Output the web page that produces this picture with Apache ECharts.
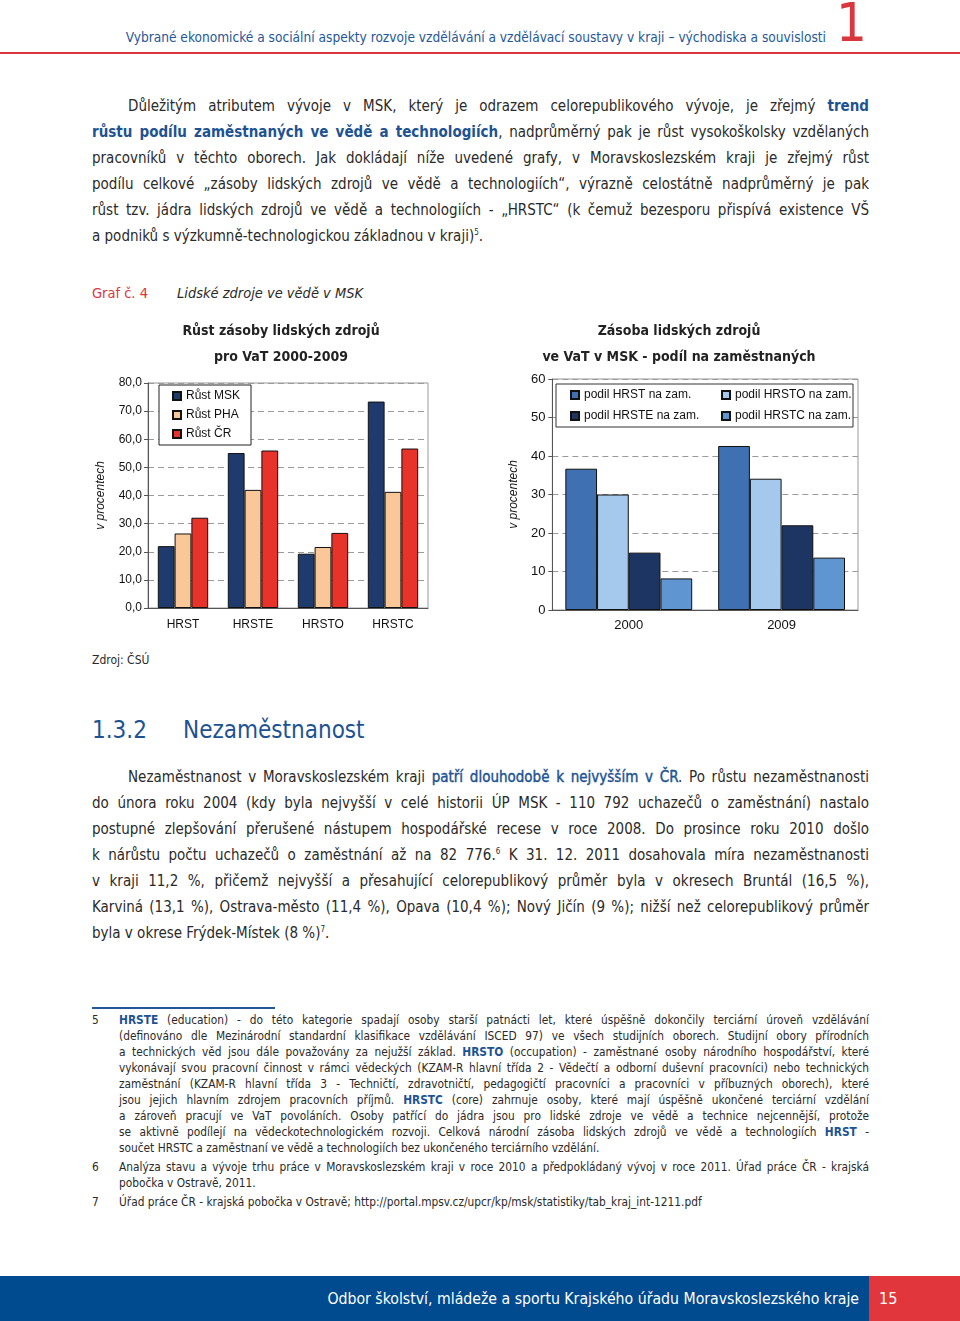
<!DOCTYPE html>
<html lang="cs">
<head>
<meta charset="utf-8">
<title>Lidské zdroje ve vědě v MSK</title>
<script src="https://cdn.jsdelivr.net/npm/echarts@6/dist/echarts.min.js"></script>
<style>
  body { margin: 0; width: 960px; height: 1321px; position: relative; overflow: hidden; background: #fff;
    font-family: "DejaVu Sans Condensed", "DejaVu Sans", sans-serif; color: #2a2a2a; }
  .abs { position: absolute; white-space: nowrap; }
  .para { position: absolute; left: 92px; width: 777px; font-size: 15px; line-height: 26px; }
  .para div, .fn div { text-align: justify; text-align-last: justify; }
  .para div.last, .fn div.last { text-align-last: left; }
  .para div.ind { padding-left: 36px; }
  .hl { color: #1d5393; font-weight: bold; }
  .hl2 { color: #1d5393; -webkit-text-stroke: 0.4px #1d5393; }
  sup { font-size: 8px; line-height: 0; vertical-align: super; }
  .fn { position: absolute; left: 119px; width: 750px; font-size: 11.8px; line-height: 16px; }
  .fnum { position: absolute; left: 92px; font-size: 11.8px; line-height: 16px; }
  .fn b { color: #1d5393; }
  .chart { position: absolute; width: 380px; height: 330px; }
</style>
</head>
<body>
<div class="abs" style="right:134px;top:28px;font-size:13.6px;line-height:18px;color:#24579a;">Vybrané ekonomické a sociální aspekty rozvoje vzdělávání a vzdělávací soustavy v kraji – východiska a souvislosti</div>
<div class="abs" style="left:836px;top:1px;font-size:54px;line-height:44px;color:#d9363e;">1</div>
<div class="abs" style="left:0;top:52px;width:960px;height:2px;background:#d9363e;"></div>

<div class="para" style="top:93px;">
  <div class="ind">Důležitým atributem vývoje v MSK, který je odrazem celorepublikového vývoje, je zřejmý <span class="hl">trend</span></div>
  <div><span class="hl">růstu podílu zaměstnaných ve vědě a technologiích</span>, nadprůměrný pak je růst vysokoškolsky vzdělaných</div>
  <div>pracovníků v těchto oborech. Jak dokládají níže uvedené grafy, v Moravskoslezském kraji je zřejmý růst</div>
  <div>podílu celkové „zásoby lidských zdrojů ve vědě a technologiích“, výrazně celostátně nadprůměrný je pak</div>
  <div>růst tzv. jádra lidských zdrojů ve vědě a technologiích - „HRSTC“ (k čemuž bezesporu přispívá existence VŠ</div>
  <div class="last">a podniků s výzkumně-technologickou základnou v kraji)<sup>5</sup>.</div>
</div>

<div class="abs" style="left:92px;top:283px;font-size:14.5px;line-height:20px;color:#d9363e;">Graf č. 4</div>
<div class="abs" style="left:177px;top:283px;font-size:14.5px;line-height:20px;font-style:italic;">Lidské zdroje ve vědě v MSK</div>

<div id="chart1" class="chart" style="left:80px;top:315px;"></div>
<div id="chart2" class="chart" style="left:500px;top:315px;"></div>

<div class="abs" style="left:92px;top:651px;font-size:12px;line-height:18px;">Zdroj: ČSÚ</div>

<div class="abs" style="left:92px;top:714px;font-size:24px;line-height:32px;color:#1d5393;">1.3.2</div>
<div class="abs" style="left:183px;top:714px;font-size:24px;line-height:32px;color:#1d5393;">Nezaměstnanost</div>

<div class="para" style="top:764px;">
  <div class="ind">Nezaměstnanost v Moravskoslezském kraji <span class="hl2">patří dlouhodobě k nejvyšším v ČR</span>. Po růstu nezaměstnanosti</div>
  <div>do února roku 2004 (kdy byla nejvyšší v celé historii ÚP MSK - 110 792 uchazečů o zaměstnání) nastalo</div>
  <div>postupné zlepšování přerušené nástupem hospodářské recese v roce 2008. Do prosince roku 2010 došlo</div>
  <div>k nárůstu počtu uchazečů o zaměstnání až na 82 776.<sup>6</sup> K 31. 12. 2011 dosahovala míra nezaměstnanosti</div>
  <div>v kraji 11,2 %, přičemž nejvyšší a přesahující celorepublikový průměr byla v okresech Bruntál (16,5 %),</div>
  <div>Karviná (13,1 %), Ostrava-město (11,4 %), Opava (10,4 %); Nový Jičín (9 %); nižší než celorepublikový průměr</div>
  <div class="last">byla v okrese Frýdek-Místek (8 %)<sup>7</sup>.</div>
</div>

<div class="abs" style="left:92px;top:1007px;width:183px;height:2px;background:#24579a;"></div>

<div class="fnum" style="top:1012px;">5</div>
<div class="fn" style="top:1012px;">
  <div><b>HRSTE</b> (education) - do této kategorie spadají osoby starší patnácti let, které úspěšně dokončily terciární úroveň vzdělávání</div>
  <div>(definováno dle Mezinárodní standardní klasifikace vzdělávání ISCED 97) ve všech studijních oborech. Studijní obory přírodních</div>
  <div>a technických věd jsou dále považovány za nejužší základ. <b>HRSTO</b> (occupation) - zaměstnané osoby národního hospodářství, které</div>
  <div>vykonávají svou pracovní činnost v rámci vědeckých (KZAM-R hlavní třída 2 - Vědečtí a odborní duševní pracovníci) nebo technických</div>
  <div>zaměstnání (KZAM-R hlavní třída 3 - Techničtí, zdravotničtí, pedagogičtí pracovníci a pracovníci v příbuzných oborech), které</div>
  <div>jsou jejich hlavním zdrojem pracovních příjmů. <b>HRSTC</b> (core) zahrnuje osoby, které mají úspěšně ukončené terciární vzdělání</div>
  <div>a zároveň pracují ve VaT povoláních. Osoby patřící do jádra jsou pro lidské zdroje ve vědě a technice nejcennější, protože</div>
  <div>se aktivně podílejí na vědeckotechnologickém rozvoji. Celková národní zásoba lidských zdrojů ve vědě a technologiích <b>HRST</b> -</div>
  <div class="last">součet HRSTC a zaměstnaní ve vědě a technologiích bez ukončeného terciárního vzdělání.</div>
</div>
<div class="fnum" style="top:1159px;">6</div>
<div class="fn" style="top:1159px;">
  <div>Analýza stavu a vývoje trhu práce v Moravskoslezském kraji v roce 2010 a předpokládaný vývoj v roce 2011. Úřad práce ČR - krajská</div>
  <div class="last">pobočka v Ostravě, 2011.</div>
</div>
<div class="fnum" style="top:1194px;">7</div>
<div class="fn" style="top:1194px;">
  <div class="last">Úřad práce ČR - krajská pobočka v Ostravě; http://portal.mpsv.cz/upcr/kp/msk/statistiky/tab_kraj_int-1211.pdf</div>
</div>

<div class="abs" style="left:0;top:1276px;width:960px;height:45px;background:#004a8f;"></div>
<div class="abs" style="left:869px;top:1276px;width:91px;height:45px;background:#e0363c;"></div>
<div class="abs" style="right:101px;top:1288px;font-size:15.7px;line-height:22px;color:#fff;">Odbor školství, mládeže a sportu Krajského úřadu Moravskoslezského kraje</div>
<div class="abs" style="left:879px;top:1288px;font-size:16px;line-height:22px;color:#fff;">15</div>

<script>
// graf vlevo - rust zasoby lidskych zdroju 2000-2009
const categories1 = ['HRST', 'HRSTE', 'HRSTO', 'HRSTC']
const rustMSK = [22.0, 55.1, 19.3, 73.4]
const rustPHA = [26.5, 42.0, 21.7, 41.3]
const rustCR = [32.1, 56.0, 26.7, 56.7]

// graf vpravo - podil na zamestnanych
const years = ['2000', '2009']
const podilHRST = [36.7, 42.6]
const podilHRSTO = [30.0, 34.1]
const podilHRSTE = [14.9, 22.0]
const podilHRSTC = [8.2, 13.6]

const axisFont = 'Liberation Sans, Arial, sans-serif'
const titleFont = 'bold 14px "DejaVu Sans Condensed", "DejaVu Sans", sans-serif'
const dashed = { lineStyle: { color: '#9a9a9a', type: [6, 4], width: 1 } }

function barSeries(name, data, color) {
  return {
    name,
    type: 'bar',
    data,
    barGap: '0%',
    itemStyle: { color, borderColor: '#111', borderWidth: 1 }
  }
}

const chart1 = echarts.init(document.getElementById('chart1'))
chart1.setOption({
  animation: false,
  graphic: [
    { type: 'text', x: 201, y: 16, style: { text: 'Růst zásoby lidských zdrojů', align: 'center', verticalAlign: 'middle', font: titleFont, fill: '#222' } },
    { type: 'text', x: 201, y: 42, style: { text: 'pro VaT 2000-2009', align: 'center', verticalAlign: 'middle', font: titleFont, fill: '#222' } }
  ],
  grid: { left: 68, top: 68, width: 280, height: 225, show: true, borderColor: '#999', borderWidth: 1 },
  legend: {
    orient: 'vertical',
    left: 79,
    top: 70,
    padding: [5, 11, 5, 13],
    itemWidth: 8,
    itemHeight: 8,
    itemGap: 7,
    borderColor: '#222',
    borderWidth: 1,
    backgroundColor: '#fff',
    icon: 'rect',
    z: 20,
    textStyle: { fontFamily: axisFont, fontSize: 12, color: '#111' },
    data: ['Růst MSK', 'Růst PHA', 'Růst ČR']
  },
  xAxis: {
    type: 'category',
    data: categories1,
    axisLine: { lineStyle: { color: '#555' } },
    axisTick: { length: 4, lineStyle: { color: '#555' } },
    axisLabel: { margin: 11, fontFamily: axisFont, fontSize: 12, color: '#111' }
  },
  yAxis: {
    type: 'value',
    min: 0,
    max: 80,
    interval: 10,
    name: 'v procentech',
    nameLocation: 'middle',
    nameGap: 41,
    nameTextStyle: { fontFamily: axisFont, fontSize: 12, fontStyle: 'italic', color: '#111' },
    axisLine: { show: true, lineStyle: { color: '#555' } },
    axisTick: { show: true, length: 4, lineStyle: { color: '#555' } },
    axisLabel: {
      margin: 6,
      fontFamily: axisFont,
      fontSize: 12,
      color: '#111',
      formatter: v => v.toFixed(1).replace('.', ',')
    },
    splitLine: dashed
  },
  series: [
    Object.assign(barSeries('Růst MSK', rustMSK, '#1f3a6d'), { barCategoryGap: '28%' }),
    barSeries('Růst PHA', rustPHA, '#fac898'),
    barSeries('Růst ČR', rustCR, '#e8332b')
  ]
})

const chart2 = echarts.init(document.getElementById('chart2'))
chart2.setOption({
  animation: false,
  graphic: [
    { type: 'text', x: 179, y: 16, style: { text: 'Zásoba lidských zdrojů', align: 'center', verticalAlign: 'middle', font: titleFont, fill: '#222' } },
    { type: 'text', x: 179, y: 42, style: { text: 've VaT v MSK - podíl na zaměstnaných', align: 'center', verticalAlign: 'middle', font: titleFont, fill: '#222' } },
    { type: 'rect', z: 10, shape: { x: 56, y: 69, width: 297, height: 43 }, style: { fill: '#fff', stroke: '#333', lineWidth: 1 } }
  ],
  grid: { left: 52, top: 64, width: 306, height: 231, show: true, borderColor: '#999', borderWidth: 1 },
  legend: [
    {
      orient: 'vertical',
      left: 70,
      top: 74,
      padding: 0,
      itemWidth: 8,
      itemHeight: 8,
      itemGap: 9,
      icon: 'rect',
      z: 20,
      textStyle: { fontFamily: axisFont, fontSize: 12, color: '#111' },
      data: ['podil HRST na zam.', 'podil HRSTE na zam.']
    },
    {
      orient: 'vertical',
      left: 221,
      top: 74,
      padding: 0,
      itemWidth: 8,
      itemHeight: 8,
      itemGap: 9,
      icon: 'rect',
      z: 20,
      textStyle: { fontFamily: axisFont, fontSize: 12, color: '#111' },
      data: ['podil HRSTO na zam.', 'podil HRSTC na zam.']
    }
  ],
  xAxis: {
    type: 'category',
    data: years,
    axisLine: { lineStyle: { color: '#555' } },
    axisTick: { length: 4, lineStyle: { color: '#555' } },
    axisLabel: { margin: 9, fontFamily: axisFont, fontSize: 13, color: '#111' }
  },
  yAxis: {
    type: 'value',
    min: 0,
    max: 60,
    interval: 10,
    name: 'v procentech',
    nameLocation: 'middle',
    nameGap: 27,
    nameTextStyle: { fontFamily: axisFont, fontSize: 12, fontStyle: 'italic', color: '#111' },
    axisLine: { show: true, lineStyle: { color: '#555' } },
    axisTick: { show: true, length: 4, lineStyle: { color: '#555' } },
    axisLabel: { margin: 7, fontFamily: axisFont, fontSize: 13, color: '#111' },
    splitLine: dashed
  },
  series: [
    Object.assign(barSeries('podil HRST na zam.', podilHRST, '#3f70b2'), { barCategoryGap: '17%' }),
    barSeries('podil HRSTO na zam.', podilHRSTO, '#a4c9ec'),
    barSeries('podil HRSTE na zam.', podilHRSTE, '#1d3563'),
    barSeries('podil HRSTC na zam.', podilHRSTC, '#5f96d2')
  ]
})
</script>
</body>
</html>
